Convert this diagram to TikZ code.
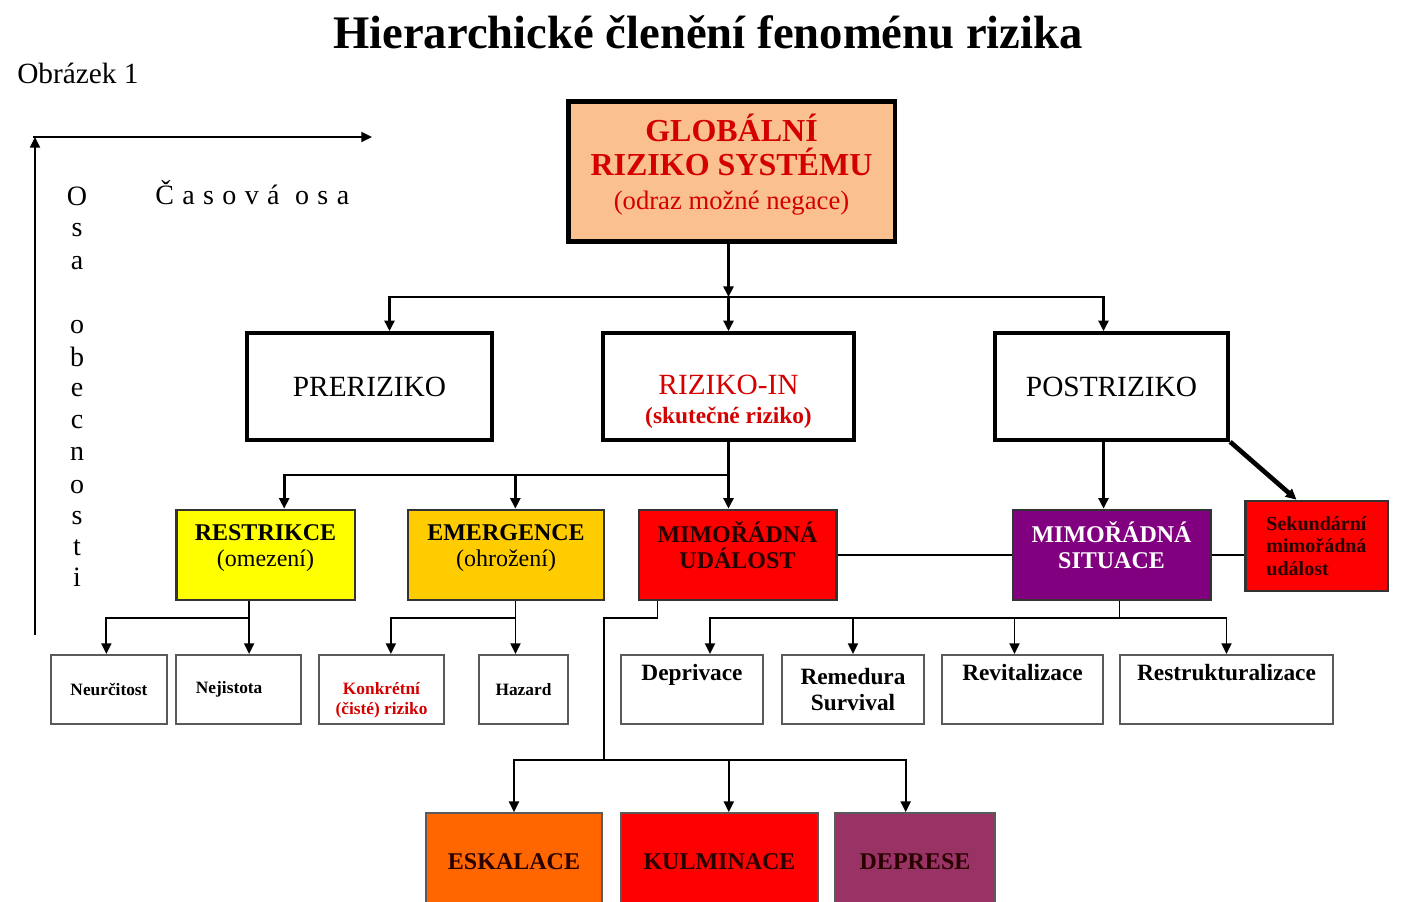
\documentclass[tikz,border=0pt]{standalone}
\usepackage{fontspec}
\setmainfont{Liberation Serif}
\newfontfamily\spacedfont{Liberation Serif}[LetterSpace=30]
\usetikzlibrary{arrows.meta, positioning}
\definecolor{rzpeach}{RGB}{250, 192, 143}
\definecolor{rzred}{RGB}{212, 0, 0}
\definecolor{rzyellow}{RGB}{255, 255, 0}
\definecolor{rzgold}{RGB}{255, 204, 0}
\definecolor{rzbright}{RGB}{255, 0, 0}
\definecolor{rzpurple}{RGB}{128, 0, 128}
\definecolor{rzorange}{RGB}{255, 102, 0}
\definecolor{rzplum}{RGB}{153, 51, 102}
\definecolor{rzgray}{RGB}{90, 90, 90}
\definecolor{rzdark}{RGB}{40, 0, 0}

\begin{document}
\begin{tikzpicture}[x=0.75pt, y=-0.75pt, >={Triangle[length=8pt, width=7.5pt]},
    bigbox/.style={draw, line width=3pt, inner sep=2pt, align=center, minimum height=80pt},
    colbox/.style={draw=black!80, line width=2pt, inner sep=2pt, align=center, minimum height=67.5pt,
        font=\fontsize{18pt}{19.5pt}\selectfont\bfseries},
    smallbox/.style={draw=rzgray, line width=1.3pt, inner sep=2pt, align=center, minimum height=52pt,
        font=\fontsize{13pt}{15pt}\selectfont\bfseries},
    wordbox/.style={smallbox, font=\fontsize{17.5pt}{20pt}\selectfont\bfseries},
    lastbox/.style={draw=rzgray, line width=1.3pt, align=center, minimum height=73.5pt, text=rzdark,
        font=\fontsize{18pt}{20pt}\selectfont\bfseries},
    topline/.style={line width=2.2pt},
    lowline/.style={line width=1.4pt},
    axisletter/.style={anchor=base, inner sep=0pt, font=\fontsize{21pt}{21pt}\selectfont}]

\useasboundingbox (0,0) rectangle (1401,901);
\clip (0,0) rectangle (1401,901);

% === Nadpis ===
\node[anchor=base, font=\fontsize{35pt}{35pt}\selectfont\bfseries] (title) at (708,48) {Hierarchické členění fenoménu rizika};
\node[anchor=base west, inner sep=0pt, font=\fontsize{22pt}{22pt}\selectfont] (fig) at (17,83) {Obrázek 1};

% === Osy ===
\coordinate (axbase) at (35,635);
\coordinate (axcorner) at (35,137);
\coordinate (axend) at (372,137);
\draw[line width=1.5pt, ->] (axbase) -- (axcorner);
\draw[line width=1.5pt, ->] ([xshift=-1.5]axcorner) -- (axend);
\node[anchor=base west, inner sep=0pt, font=\fontsize{21pt}{21pt}\selectfont] (casova) at (155,204) {\spacedfont Časová osa};
\foreach \ch/\yy in {O/205, s/236, a/269, o/333, b/366, e/396, c/428, n/460, o/493, s/524, t/555, i/586}
    \node[axisletter] (v\yy) at (77,\yy) {\ch};

% === Úroveň 1 ===
\node[bigbox, line width=3.5pt, fill=rzpeach, text=rzred, minimum width=245pt, minimum height=105pt, text depth=15pt,
    font=\fontsize{24pt}{25.5pt}\selectfont\bfseries] (glob) at (731.5,171.5)
    {GLOBÁLNÍ\\RIZIKO SYSTÉMU\\{\mdseries\fontsize{20pt}{25.5pt}\selectfont(odraz možné negace)}};
\node[bigbox, minimum width=184pt, font=\fontsize{22pt}{24pt}\selectfont] (pre) at (369.5,386.5) {PRERIZIKO};
\node[bigbox, minimum width=188pt, text=rzred, font=\fontsize{22pt}{22pt}\selectfont] (rin) at (728.5,386.5)
    {\strut\\RIZIKO-IN\\{\bfseries\fontsize{17.5pt}{22pt}\selectfont(skutečné riziko)}};
\node[bigbox, minimum width=175pt, font=\fontsize{22pt}{24pt}\selectfont] (post) at (1111.5,386.5) {POSTRIZIKO};

% === Úroveň 2 ===
\node[colbox, fill=rzyellow, minimum width=134pt, text depth=13.5pt] (restr) at (265.5,555) {RESTRIKCE\\{\mdseries(omezení)}};
\node[colbox, fill=rzgold, minimum width=147pt, text depth=13.5pt] (emerg) at (506,555) {EMERGENCE\\{\mdseries(ohrožení)}};
\node[colbox, fill=rzbright, text=rzdark, minimum width=148pt, text depth=15pt] (udal) at (737.5,555) {MIMOŘÁDNÁ\\UDÁLOST};
\node[colbox, fill=rzpurple, text=white, minimum width=148pt, text depth=15pt] (situ) at (1111.5,555) {MIMOŘÁDNÁ\\SITUACE};
\node[colbox, fill=rzbright, text=rzdark, minimum width=107pt, align=left,
    font=\fontsize{15pt}{17pt}\selectfont\bfseries] (sek) at (1316.5,546) {Sekundární\\mimořádná\\událost};

% === Úroveň 3 ===
\node[smallbox, minimum width=87pt] (neur) at (109,689.5) {Neurčitost};
\node[smallbox, minimum width=94pt] (nejist) at (238.5,689.5) {Nejistota\hspace{14pt}};
\node[smallbox, minimum width=94pt, text=rzred] (konkr) at (381.5,689.5) {\strut\\Konkrétní\\(čisté) riziko};
\node[smallbox, minimum width=67pt] (hazard) at (523.5,689.5) {Hazard};
\node[wordbox, minimum width=106.5pt] (depriv) at (692,689.5) {Deprivace\\\strut};
\node[wordbox, minimum width=106.5pt] (remed) at (853,689.5) {Remedura\\Survival};
\node[wordbox, minimum width=121pt] (revit) at (1022.5,689.5) {Revitalizace\\\strut};
\node[wordbox, minimum width=160pt] (restruk) at (1226.5,689.5) {Restrukturalizace\\\strut};

% === Úroveň 4 ===
\node[lastbox, fill=rzorange, minimum width=132pt] (eskal) at (514,862) {ESKALACE};
\node[lastbox, fill=rzbright, minimum width=148pt] (kulm) at (719.5,862) {KULMINACE};
\node[lastbox, fill=rzplum, minimum width=120pt] (depr) at (915,862) {DEPRESE};

% === Spojnice ===
\coordinate (j1) at (0,297);
\coordinate (j2) at (0,475);
\coordinate (j3) at (0,618);
\coordinate (j4) at (0,760);
\coordinate (bend) at (604,618);

\draw[topline,->] (rin.north |- glob.south) -- (rin.north |- j1);
\draw[topline,->] (rin.north |- j1) -- (rin.north);
\draw[topline,->] (rin.north |- j1) -| ([xshift=15]pre.north);
\draw[topline,->] (rin.north |- j1) -| ([xshift=-6]post.north);

\draw[topline,->] (rin.south) -- (rin.south |- udal.north);
\draw[topline,->] (rin.south |- j2) -| ([xshift=14]restr.north);
\draw[topline,->] (rin.south |- j2) -| ([xshift=7]emerg.north);
\draw[topline,->] ([xshift=-6]post.south) -- ([xshift=-6]post.south |- situ.north);
\draw[line width=3.5pt,->] (post.south east) -- ([xshift=-15]sek.north);

\draw[line width=1pt] (udal.east) -- (situ.west);
\draw[line width=1pt] (situ.east) -- (sek.west |- situ.east);

% restrikce, emergence
\draw[lowline,->] ([xshift=8]nejist.north |- restr.south) -- ([xshift=8]nejist.north);
\draw[lowline,->] ([xshift=8]nejist.north |- j3) -| ([xshift=-2]neur.north);
\draw[lowline,->] ([xshift=-6]hazard.north |- emerg.south) -- ([xshift=-6]hazard.north);
\draw[lowline,->] ([xshift=-6]hazard.north |- j3) -| ([xshift=7]konkr.north);

% mimořádná událost
\draw[lowline] ([xshift=-60]udal.south) |- (bend) -- (bend |- j4);
\draw[lowline,->] (bend |- j4) -| (eskal.north);
\draw[lowline,->] (bend |- j4) -| ([xshift=7]kulm.north);
\draw[lowline,->] (bend |- j4) -| ([xshift=-7]depr.north);

% mimořádná situace
\draw[lowline] ([xshift=6]situ.south) -- ([xshift=6]situ.south |- j3);
\draw[lowline,->] ([xshift=6]situ.south |- j3) -| ([xshift=13.5]depriv.north);
\draw[lowline,->] ([xshift=6]situ.south |- j3) -| (remed.north);
\draw[lowline,->] ([xshift=6]situ.south |- j3) -| ([xshift=-6]revit.north);
\draw[lowline,->] ([xshift=6]situ.south |- j3) -| (restruk.north);

\end{tikzpicture}
\end{document}
